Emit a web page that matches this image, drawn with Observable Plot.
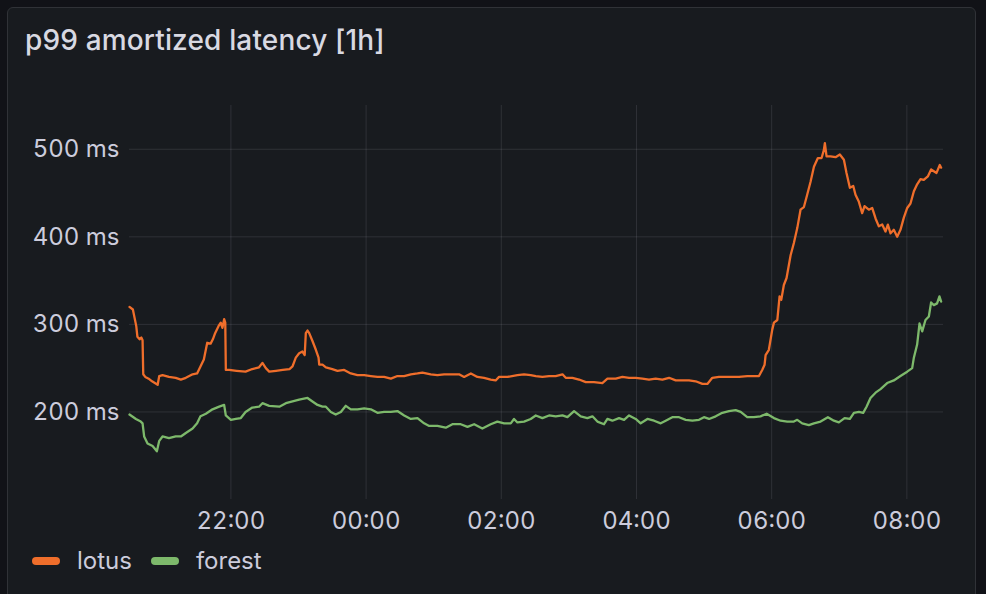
<!DOCTYPE html>
<html>
<head>
<meta charset="utf-8">
<script src="https://cdn.jsdelivr.net/npm/d3@7"></script>
<script src="https://cdn.jsdelivr.net/npm/@observablehq/plot@0.6"></script>
<style>
  html, body { margin: 0; padding: 0; background: #111217; width: 986px; height: 594px; overflow: hidden; font-family: Inter, "Noto Sans", sans-serif; }
  #panel { position: absolute; left: 7px; top: 7px; width: 969px; height: 620px; background: #181b1f; border: 1px solid #303237; border-radius: 6px; box-sizing: border-box; }
  #title { position: absolute; left: 25px; top: 23px; font-size: 28px; font-weight: 500; color: #d8d9e2; white-space: nowrap; letter-spacing: 0.15px; }
  #chart { position: absolute; left: 8px; top: 80px; }
  #legend { position: absolute; left: 32px; top: 546px; display: flex; align-items: center; font-size: 24px; color: #ccccdc; }
  .item { display: flex; align-items: center; margin-right: 19px; }
  .sw { width: 28px; height: 8px; border-radius: 4px; margin-right: 17px; }
</style>
</head>
<body>
<div id="panel"></div>
<div id="title">p99 amortized latency [1h]</div>
<div id="chart"></div>
<div id="legend"></div>
<script>
// minutes after 20:30, latency in ms
const lotus = [
  [0,320],[3,317],[6,298],[7,286],[9,283],[10.5,285],[11.6,282],[12.2,243],[14,240],[17,238],[20,235],[25,231],
  [26.4,241],[29.3,242],[35,240],[41,239],[45.6,237],[50,239],[56,243],[60,244],[63,252],[66,260],[69,279],[72,278],
  [74,283],[76,290],[79,298],[81,302],[82.5,296],[84,306],[85,302],[85.5,248],[88.5,248],[95,247],[103,246],[109,249],
  [115,251],[118,256],[121,250],[124,246],[130,247],[136,248],[142,249],[144.7,252],[147.6,262],[150.6,267],[153.5,269],
  [155.5,265],[156.5,290],[158,293],[159.5,290],[162.4,281],[165.4,271],[167.8,262],[168.4,254],[171.3,254],[174.3,251],
  [180,249],[184.6,247],[190.5,248],[196.4,244],[202.4,242],[208.3,242],[214.2,241],[220.1,240],[226,240],[232,238],
  [237.8,241],[243.8,241],[249.7,243],[255.6,244],[260,245],[267.4,243],[273.3,242],[279.2,243],[285.2,243],[292.5,243],
  [297,240],[303,244],[308.8,240],[314.7,239],[320.6,237],[325,236],[328,240],[335.4,240],[344.3,242],[350.2,243],
  [356.1,242],[360.6,241],[366.5,240],[372.4,241],[378.3,241],[384.3,243],[387.2,239],[393.1,239],[399,237],[405,234],
  [412.3,234],[419.7,233],[424.2,238],[431.6,238],[437.5,240],[443.4,239],[449.3,239],[455.2,238],[461.1,237],[467,238],
  [473,237],[478.9,239],[484.8,236],[490.7,236],[496.6,236],[502.5,235],[508.5,232],[512.9,232],[517.3,239],[523.2,240],
  [529.2,240],[535.1,240],[541,240],[548.3,241],[554.2,241],[558.7,241],[561.6,248],[563.7,254],[564.6,265],[567.5,271],
  [570.5,294],[572,302],[575,305],[577,332],[578.5,328],[580.8,345],[583.2,353],[586.8,379],[589.7,393],[592.7,410],
  [595.6,431],[598.6,434],[601.5,448],[604.5,463],[607.5,480],[611,490],[614.3,490],[616.3,499],[617.2,507],[618.7,492],
  [622.2,492],[626.7,491],[630.5,494],[634.1,488],[636.4,473],[639.4,456],[642.4,458],[644.4,448],[647.4,440],[650.3,427],
  [652.4,435],[656.2,431],[659.2,433],[662.2,421],[665.1,412],[668.1,414],[671,406],[673.1,414],[675.5,404],[678.4,408],
  [681.4,400],[684.3,408],[687.3,422],[690.3,433],[693.2,438],[696.2,452],[699.1,460],[702.1,466],[705,465],[708.6,469],
  [711.5,477],[713.9,475],[716.3,473],[719.2,482],[720.4,479]
];
const forest = [
  [0,197],[5.7,192],[10,189],[11.6,187],[13,172],[16,164],[20.5,161],[24.3,155],[26.4,167],[29.3,172],[35,170],[41,172],
  [45.6,172],[50,176],[56,181],[60,187],[63,195],[67.8,198],[73.7,203],[79.6,206],[84,208],[85.5,196],[90,191],[94.4,192],
  [98.8,193],[103,200],[109,205],[115,206],[118,210],[124,207],[133,206],[138.8,210],[144.7,212],[150.6,214],[158,216],
  [162.4,212],[166.9,208],[171.3,206],[174.3,206],[178.7,200],[183,197],[187.6,200],[192,207],[196.4,203],[202.4,203],
  [208.3,204],[214.2,203],[220.1,199],[226,200],[232,200],[237.8,201],[243.8,196],[249.7,192],[255.6,193],[261.5,187],
  [266,184],[273.3,184],[280.7,182],[286.6,186],[294,186],[300,183],[305.9,186],[313.2,181],[320.6,186],[326.5,189],
  [332.5,187],[338.4,187],[341.3,192],[344.3,188],[350.2,189],[356.1,192],[360.6,196],[366.5,193],[372.4,196],[378.3,195],
  [384.3,196],[388.7,194],[394.6,201],[400.5,195],[406.4,193],[410.9,195],[415.3,189],[421.2,186],[424.2,192],[428.6,190],
  [434.5,193],[439,191],[443.4,196],[449.3,192],[453.7,187],[459.7,192],[465.6,190],[471.5,187],[475.9,190],[481.8,194],
  [487.8,194],[493.7,191],[499.6,190],[505.5,191],[509.9,194],[514.4,192],[520.3,195],[526.2,199],[532.1,201],[538,202],
  [542.5,200],[548.3,194],[554.2,194],[560.1,195],[565.5,198],[572,193],[577.9,190],[583.8,189],[589.7,189],[592.7,191],
  [597.1,187],[603,185],[607.5,187],[613.4,189],[619.9,194],[625.2,190],[629.6,188],[634.7,193],[639.4,192],[643,199],
  [647.4,200],[651.2,199],[654.2,206],[657.7,216],[662.2,222],[666.6,226],[672.5,233],[678.4,236],[684.3,241],[690.3,246],
  [694.7,250],[696.2,262],[699.1,277],[701.2,301],[703.6,292],[706.5,305],[709.5,309],[711.5,325],[713.9,322],[716.8,324],
  [718.9,332],[720.4,326]
];
const seriesNames = ["lotus", "forest"];
const seriesColors = ["#ef6e2b", "#7db96b"];
const yTicks = [200, 300, 400, 500];
const yTickUnit = "ms";

const base = Date.UTC(2024, 0, 1, 20, 30);
const toDate = m => new Date(base + m * 60000);
const rows = [
  ...lotus.map(([m, v]) => ({t: toDate(m), v, s: "lotus"})),
  ...forest.map(([m, v]) => ({t: toDate(m), v, s: "forest"}))
];
const xDomain = [toDate(0), toDate(722.5)];
const xTicks = d3.utcHour.every(2).range(xDomain[0], xDomain[1]);
const grid = {stroke: "#ccccdc", strokeOpacity: 0.13, strokeWidth: 1};

const chart = Plot.plot({
  width: 966,
  height: 470,
  marginLeft: 121,
  marginRight: 31,
  marginTop: 25,
  marginBottom: 51,
  style: {background: "transparent", color: "#ccccdc", fontFamily: "Inter, 'Noto Sans', sans-serif", fontSize: "24px"},
  x: {type: "utc", domain: xDomain},
  y: {domain: [100, 550]},
  color: {domain: seriesNames, range: seriesColors},
  marks: [
    Plot.gridX(xTicks, grid),
    Plot.gridY(yTicks, {...grid, x1: xDomain[0], x2: xDomain[1]}),
    Plot.axisX(xTicks, {tickSize: 0, tickPadding: 12, tickFormat: d3.utcFormat("%H:%M"), label: null, fontSize: 24}),
    Plot.axisY(yTicks, {tickSize: 0, tickPadding: 10, tickFormat: d => `${d} ${yTickUnit}`, label: null, fontSize: 24}),
    Plot.line(rows, {x: "t", y: "v", z: "s", stroke: "s", strokeWidth: 2.3, curve: "linear"})
  ]
});
document.getElementById("chart").appendChild(chart);

const legend = document.getElementById("legend");
seriesNames.forEach((n, i) => {
  const item = document.createElement("div");
  item.className = "item";
  const sw = document.createElement("div");
  sw.className = "sw";
  sw.style.background = seriesColors[i];
  const lab = document.createElement("span");
  lab.textContent = n;
  item.appendChild(sw);
  item.appendChild(lab);
  legend.appendChild(item);
});
</script>
</body>
</html>
